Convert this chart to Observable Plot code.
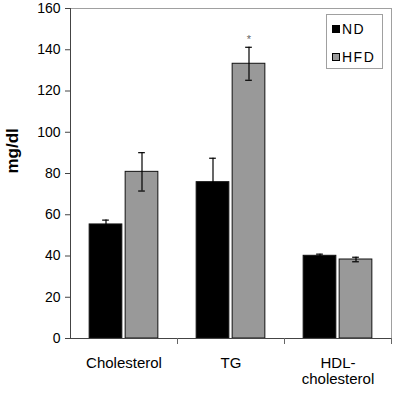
<!DOCTYPE html>
<html>
<head>
<meta charset="utf-8">
<script src="https://cdn.jsdelivr.net/npm/d3@7"></script>
<script src="https://cdn.jsdelivr.net/npm/@observablehq/plot@0.6"></script>
<style>
  body { margin: 0; background: #fff; }
  #wrap { position: relative; width: 396px; height: 393px; font-family: "Liberation Sans", Arial, sans-serif; }
  #legend { position: absolute; left: 326px; top: 14px; width: 57px; height: 55px; border: 1px solid #a0a0a0; box-sizing: border-box; background: #fff; }
  .item { position: absolute; left: 5px; height: 16px; display: flex; align-items: center; font-size: 14px; letter-spacing: 1.5px; color: #000; }
  .sw { width: 8px; height: 8px; box-sizing: border-box; border: 1px solid #000; margin-right: 2px; }
</style>
</head>
<body>
<div id="wrap"><div id="legend"></div></div>
<script>
const categories = ["Cholesterol", "TG", "HDL-cholesterol"];
const xTickLabels = ["Cholesterol", "TG", "HDL-\ncholesterol"];
const groups = ["ND", "HFD"];
const groupColors = ["#000000", "#999999"];
const ndValues = [55.3, 75.8, 40.1];
const ndErrors = [2.1, 11.6, 0.8];
const hfdValues = [80.8, 133.2, 38.3];
const hfdErrors = [9.3, 8.0, 1.1];
const yTicks = [0, 20, 40, 60, 80, 100, 120, 140, 160];
const significant = [{category: "TG", group: "HFD"}];

const data = categories.flatMap((c, i) => [
  {category: c, group: "ND", value: ndValues[i], error: ndErrors[i]},
  {category: c, group: "HFD", value: hfdValues[i], error: hfdErrors[i]}
]);
const stars = significant.map(s => {
  const d = data.find(e => e.category === s.category && e.group === s.group);
  return {category: d.category, group: d.group, y: d.value + d.error};
});

const chart = Plot.plot({
  width: 396,
  height: 393,
  marginLeft: 70,
  marginRight: 5,
  marginTop: 8,
  marginBottom: 55,
  style: {fontFamily: "Liberation Sans, Arial, sans-serif", fontSize: "14px", color: "#000", background: "#fff", overflow: "visible"},
  fx: {domain: categories, padding: 0, axis: null},
  x: {domain: groups, paddingInner: 0.092, paddingOuter: 0.532, round: false, axis: null},
  y: {domain: [0, 160], axis: null},
  color: {domain: groups, range: groupColors},
  marks: [
    Plot.frame({facet: "super", stroke: "#a0a0a0"}),
    Plot.barY(data, {fx: "category", x: "group", y: "value", fill: "group", stroke: "#111", strokeWidth: 1, inset: 0}),
    Plot.ruleX(data, {fx: "category", x: "group", y1: d => d.value - d.error, y2: d => d.value + d.error, stroke: "#000", strokeWidth: 1.2}),
    Plot.tickY(data, {fx: "category", x: "group", y: d => d.value + d.error, stroke: "#000", strokeWidth: 1.2, insetLeft: 13, insetRight: 13}),
    Plot.tickY(data, {fx: "category", x: "group", y: d => d.value - d.error, stroke: "#000", strokeWidth: 1.2, insetLeft: 13, insetRight: 13}),
    Plot.text(stars, {fx: "category", x: "group", y: "y", text: () => "*", dy: -8, fontSize: 11, fill: "#666"}),
    Plot.ruleY([0], {stroke: "#444"}),
    Plot.frame({facet: "super", anchor: "left", stroke: "#444"}),
    Plot.frame({anchor: "right", insetTop: 330, insetBottom: -5, stroke: "#666"}),
    Plot.axisY({ticks: yTicks, tickSize: 5, tickPadding: 5, label: null, stroke: "#444", fontSize: 14}),
    Plot.axisFx({anchor: "bottom", tickSize: 0, tickPadding: 18, label: null, fontSize: 15, lineHeight: 1.07,
      tickFormat: d => xTickLabels[categories.indexOf(d)]}),
    Plot.text(["mg/dl"], {facet: "super", frameAnchor: "left", rotate: -90, dx: -58, fontWeight: "bold", fontSize: 17, text: d => d})
  ]
});
const wrap = document.getElementById("wrap");
wrap.insertBefore(chart, wrap.firstChild);

const legend = document.getElementById("legend");
groups.forEach((g, i) => {
  const item = document.createElement("div");
  item.className = "item";
  item.style.top = (6 + i * 28) + "px";
  const sw = document.createElement("div");
  sw.className = "sw";
  sw.style.background = groupColors[i];
  item.appendChild(sw);
  item.appendChild(document.createTextNode(g));
  legend.appendChild(item);
});
</script>
</body>
</html>
